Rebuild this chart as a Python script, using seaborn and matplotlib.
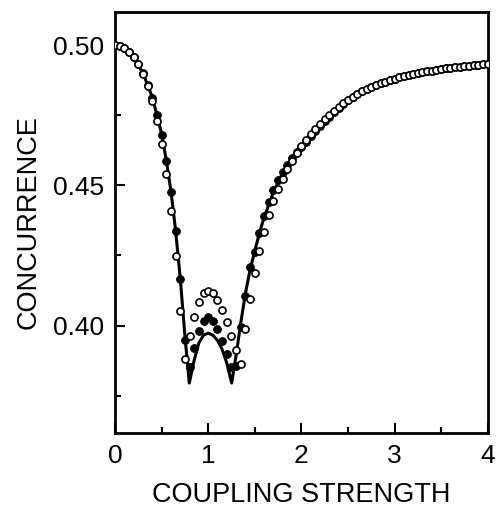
import numpy as np
import pandas as pd
import matplotlib
matplotlib.use("Agg")
import matplotlib.pyplot as plt
import seaborn as sns
from matplotlib.ticker import MultipleLocator

# curva contínua (teoria)
x_linha = [0.0, 0.1, 0.2, 0.3, 0.4, 0.5, 0.55, 0.6, 0.65, 0.7, 0.75, 0.797,
           0.85, 0.9, 0.95, 1.0, 1.05, 1.1, 1.15, 1.2, 1.252,
           1.3, 1.35, 1.4, 1.45, 1.5, 1.55, 1.6, 1.7, 1.8, 1.9, 2.0, 2.2, 2.4,
           2.6, 2.8, 3.0, 3.3, 3.6, 4.0]
y_linha = [0.5000, 0.4988, 0.4955, 0.4900, 0.4815, 0.4685, 0.4590, 0.4480,
           0.4340, 0.4170, 0.3965, 0.3795,
           0.3877, 0.3938, 0.3966, 0.3973, 0.3966, 0.3947, 0.3915, 0.3866, 0.3795,
           0.3895, 0.4010, 0.4115, 0.4200, 0.4265, 0.4330, 0.4385, 0.4475,
           0.4545, 0.4598, 0.4640, 0.4712, 0.4775, 0.4822, 0.4856, 0.4880,
           0.4904, 0.4920, 0.4934]

# pontos (x de 0 a 4, passo 0.05)
x_pontos = [round(0.05 * i, 2) for i in range(81)]

y_abertos = [0.5000, 0.4997, 0.4988, 0.4976, 0.4957, 0.4932, 0.4898, 0.4853,
             0.4800, 0.4731, 0.4648, 0.4540, 0.4410, 0.4249, 0.4053, 0.3880,
             0.3963, 0.4032, 0.4083, 0.4116, 0.4125, 0.4116, 0.4090, 0.4055,
             0.4011, 0.3963, 0.3913, 0.3863, 0.3989, 0.4093, 0.4189, 0.4265,
             0.4335, 0.4393, 0.4443, 0.4487, 0.4522, 0.4557, 0.4587, 0.4615,
             0.4640, 0.4662, 0.4683, 0.4702, 0.4720, 0.4737, 0.4752, 0.4766,
             0.4780, 0.4793, 0.4805, 0.4816, 0.4826, 0.4835, 0.4843, 0.4851,
             0.4858, 0.4864, 0.4870, 0.4875, 0.4880, 0.4885, 0.4889, 0.4893,
             0.4896, 0.4900, 0.4903, 0.4906, 0.4909, 0.4912, 0.4914, 0.4917,
             0.4919, 0.4921, 0.4923, 0.4925, 0.4927, 0.4929, 0.4930, 0.4932,
             0.4933]

y_cheios = [0.5000, 0.4997, 0.4988, 0.4977, 0.4958, 0.4934, 0.4900, 0.4858,
            0.4812, 0.4750, 0.4679, 0.4586, 0.4475, 0.4338, 0.4167, 0.3950,
            0.3851, 0.3921, 0.3981, 0.4016, 0.4030, 0.4018, 0.3987, 0.3946,
            0.3899, 0.3851, 0.3855, 0.3996, 0.4105, 0.4207, 0.4262, 0.4330,
            0.4390, 0.4440, 0.4483, 0.4518, 0.4548, 0.4574, 0.4597, 0.4618,
            0.4637, 0.4656, 0.4675, 0.4694, 0.4712, 0.4729, 0.4745, 0.4760,
            0.4775, 0.4789, 0.4803, 0.4815, 0.4826, 0.4835, 0.4843, 0.4851,
            0.4858, 0.4864, 0.4870, 0.4875, 0.4880, 0.4885, 0.4889, 0.4893,
            0.4896, 0.4900, 0.4903, 0.4906, 0.4909, 0.4912, 0.4914, 0.4917,
            0.4919, 0.4921, 0.4923, 0.4925, 0.4927, 0.4929, 0.4930, 0.4932,
            0.4933]

df_linha = pd.DataFrame({"x": x_linha, "y": y_linha})
df_pontos = pd.DataFrame({"x": x_pontos, "abertos": y_abertos, "cheios": y_cheios})

sns.set_theme(style="ticks")
plt.rcParams["font.family"] = ["Liberation Sans", "DejaVu Sans"]
plt.rcParams["text.color"] = "black"
plt.rcParams["axes.labelcolor"] = "black"
plt.rcParams["xtick.color"] = "black"
plt.rcParams["ytick.color"] = "black"

fig = plt.figure(figsize=(4.97, 5.08), dpi=100)
ax = fig.add_axes([0.2314, 0.1482, 0.9813 - 0.2314, 0.977 - 0.1482])

sns.lineplot(data=df_linha, x="x", y="y", color="black", linewidth=2.2,
             estimator=None, sort=False, ax=ax)
sns.scatterplot(data=df_pontos, x="x", y="cheios", color="black", s=32,
                edgecolor="black", linewidth=0.6, ax=ax, zorder=3)
sns.scatterplot(data=df_pontos, x="x", y="abertos", facecolor="white", s=26,
                edgecolor="black", linewidth=1.2, ax=ax, zorder=4)

ax.set_xlim(0, 4)
ax.set_ylim(0.3618, 0.5119)
ax.xaxis.set_minor_locator(MultipleLocator(0.5))
ax.yaxis.set_minor_locator(MultipleLocator(0.025))
ax.set_yticks([0.40, 0.45, 0.50])
ax.set_yticklabels(["0.40", "0.45", "0.50"])
ax.set_xticks([0, 1, 2, 3, 4])
ax.set_xticklabels(["0", "1", "2", "3", "4"])

ax.tick_params(which="both", direction="in", width=1.5, colors="black",
               labelsize=19, top=False, right=False)
ax.tick_params(which="major", length=7, pad=8)
ax.tick_params(which="minor", length=4)
for s in ax.spines.values():
    s.set_linewidth(2.0)
    s.set_color("black")

ax.set_xlabel("COUPLING STRENGTH", fontsize=19.5, labelpad=10)
ax.set_ylabel("CONCURRENCE", fontsize=19.5, labelpad=8)

fig.savefig("out.png", dpi=100)
